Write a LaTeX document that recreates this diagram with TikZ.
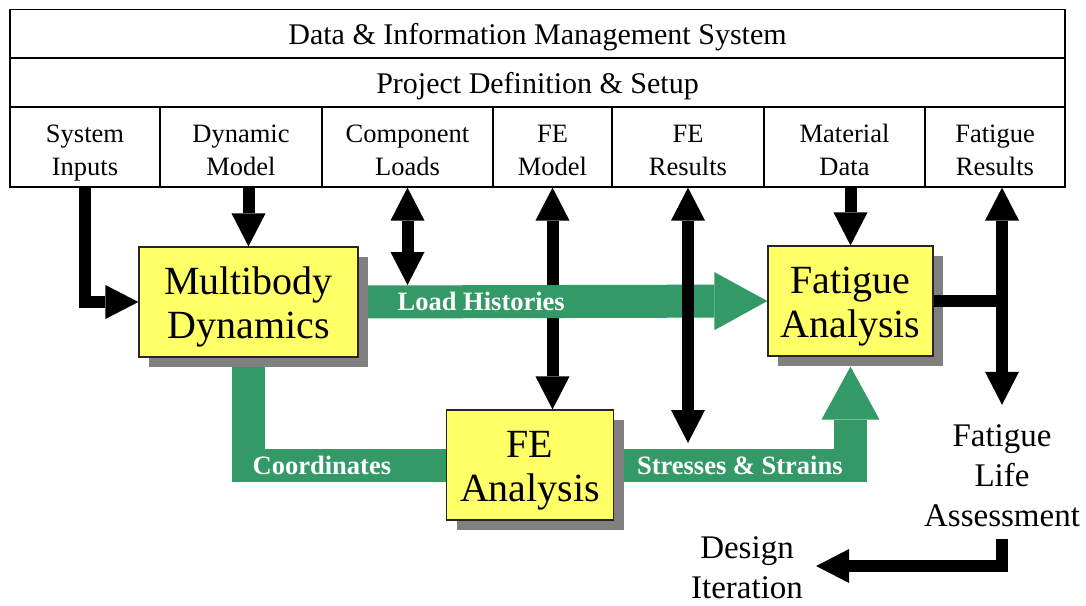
\documentclass[tikz,border=0pt]{standalone}
\usepackage{fontspec}
\setmainfont{Liberation Serif}
\usetikzlibrary{arrows.meta,shadows,backgrounds}

\definecolor{boxyellow}{HTML}{FFFF66}
\definecolor{flowgreen}{HTML}{339966}
\definecolor{shadowgray}{HTML}{808080}

\tikzset{
  % height above the last baseline, depth below it
  lead/.style={execute at begin node={\rule{0pt}{#1}}},
  trail/.style={execute at end node={\rule[-#1]{0pt}{#1}}},
  bar/.style={draw, line width=1.2pt, inner sep=0pt, minimum width=1055pt,
    lead=35pt, trail=13.5pt, font=\fontsize{30}{36}\selectfont},
  cell/.style={draw, line width=1.2pt, inner sep=0pt, minimum height=80pt,
    align=center, lead=68pt, trail=12pt, font=\fontsize{26.5}{33}\selectfont},
  stage/.style={draw=black!85, line width=1.2pt, fill=boxyellow, inner sep=0pt,
    minimum height=110pt, align=center, lead=91pt, trail=19pt,
    font=\fontsize{40}{44}\selectfont,
    drop shadow={shadow xshift=10pt, shadow yshift=-10pt, fill=shadowgray, opacity=1}},
  note/.style={align=center, inner sep=0pt, font=\fontsize{33}{40}\selectfont},
  feed/.style={line width=12pt, -{Triangle[width=34pt,length=33pt,line width=0pt]}},
  twoway/.style={line width=12pt,
    {Triangle[width=34pt,length=33pt,line width=0pt]}-{Triangle[width=34pt,length=33pt,line width=0pt]}},
  band/.style={line width=33pt, flowgreen},
  flow/.style={band, -{Triangle[width=58pt,length=53pt,line width=0pt]}},
  flowlabel/.style={text=white, inner sep=0pt, font=\fontsize{26.5}{32}\selectfont\bfseries}
}

\begin{document}
\begin{tikzpicture}[x=1pt,y=-1pt]
\useasboundingbox (0,0) rectangle (1086,605);

% Header rows
\node[bar, minimum height=48pt] (dims) at (537.5,34) {Data \& Information Management System};
\node[bar, minimum height=49pt] (setup) at (537.5,82.5) {Project Definition \& Setup};

% Data items
\node[cell, minimum width=150pt] (sysin) at (85,147) {System\\Inputs};
\node[cell, minimum width=162pt] (dynm) at (241,147) {Dynamic\\Model};
\node[cell, minimum width=171pt] (cmpl) at (407.5,147) {Component\\Loads};
\node[cell, minimum width=119pt] (fem) at (552.5,147) {FE\\Model};
\node[cell, minimum width=152pt] (fer) at (688,147) {FE\\Results};
\node[cell, minimum width=161pt] (mat) at (844.5,147) {Material\\Data};
\node[cell, minimum width=140pt] (fatr) at (995,147) {Fatigue\\Results};

% Analysis stages
\node[stage, minimum width=219pt] (mbd) at (248.5,302) {Multibody\\Dynamics};
\node[stage, minimum width=167pt] (fea) at (530,465) {FE\\Analysis};
\node[stage, minimum width=165pt] (fat) at (850.5,301) {Fatigue\\Analysis};

% Outcomes
\node[note, lead=121.5pt, trail=12.5pt] (fla) at (1002,472) {Fatigue\\Life\\Assessment};
\node[note, inner xsep=13pt, lead=70pt, trail=6pt] (dsg) at (747,566) {Design\\Iteration};

% Green flows, behind the boxes and their shadows
\begin{scope}[on background layer]
\draw[twoway] (fem.south) -- (fem.south |- fea.north);
\draw[flow] (mbd.east) -- (fat.west)
  node[flowlabel, pos=0.3] (lh) {Load Histories};
\draw[band] (mbd.south) |- (fea.west)
  node[flowlabel, pos=0.686] (crd) {Coordinates};
\draw[flow, shorten >=10pt] (fea.east) -| (fat.south)
  node[flowlabel, pos=0.266] (ss) {Stresses \& Strains};
\end{scope}

% Free ends of the two-way links
\path (mbd.east) ++(0,-17) coordinate (lhtop);
\path (fea.east) ++(0,-22) coordinate (sstop);

% Black links to and from the data items
\draw[feed] (sysin.south) |- (mbd.west);
\draw[feed] (dynm.south -| mbd.north) -- (mbd.north);
\draw[twoway] (cmpl.south) -- (cmpl.south |- lhtop);
\draw[twoway] (fer.south) -- (fer.south |- sstop);
\draw[feed] (mat.south -| fat.north) -- (fat.north);
\draw[twoway] (fatr.south -| fla.north) -- (fla.north);
\draw[line width=12pt] (fat.east) -- (fat.east -| fla.north);
\draw[feed] (fla.south) |- (dsg.east);

\end{tikzpicture}
\end{document}
